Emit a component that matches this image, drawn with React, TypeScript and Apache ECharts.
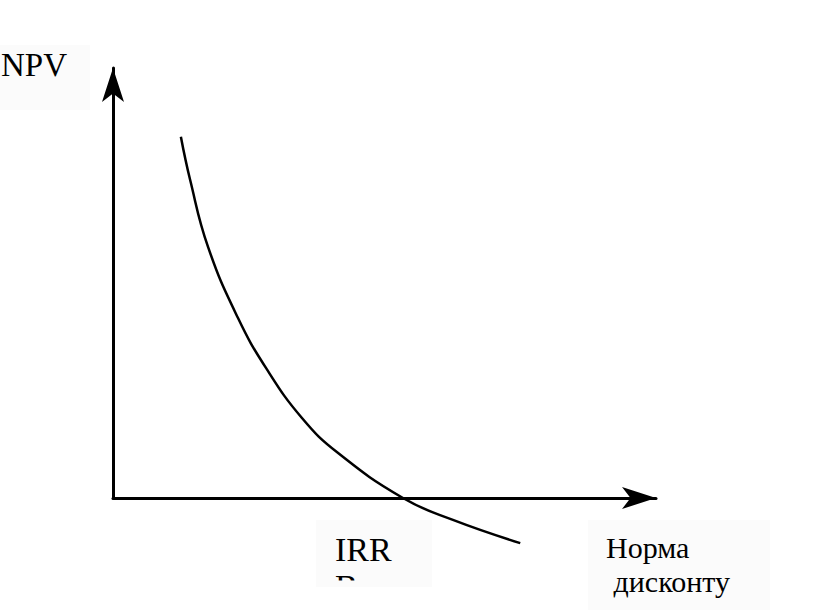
import React, { useEffect, useRef } from "react";
import * as echarts from "echarts";

const rates = [12.5, 14.2, 17.5, 23.0, 28.2, 34.8, 41.4, 53.4, 62.6, 75.0];
const npv = [84.0, 74.0, 58.4, 41.9, 30.2, 18.6, 10.5, 0, -5.1, -10.5];
const yLabel = "NPV";
const irrLabel = "IRR\nВ";
const xLabel = "Норма\n дисконту";

const FONT = "'Liberation Serif', 'Times New Roman', serif";

export default function App() {
  const ref = useRef<HTMLDivElement>(null);
  useEffect(() => {
    document.body.style.margin = "0";
    if (!ref.current) return;
    const chart = echarts.init(ref.current, null, { renderer: "svg" });
    const axisCommon = {
      type: "value" as const,
      min: 0,
      max: 100,
      axisTick: { show: false },
      axisLabel: { show: false },
      splitLine: { show: false },
      axisLine: {
        show: true,
        onZero: false,
        symbol: ["none", "arrow"],
        symbolSize: [16.5, 34],
        lineStyle: { color: "#000", width: 3 },
      },
    };
    const data = rates.map((r, i) => [r, npv[i]]);
    chart.setOption({
      animation: false,
      backgroundColor: "#fff",
      grid: { left: 113, right: 159, top: 68, bottom: 115 },
      xAxis: { ...axisCommon },
      yAxis: { ...axisCommon },
      graphic: [
        { type: "rect", shape: { x: 0, y: 45, width: 90, height: 65 }, style: { fill: "#fbfbfb" }, z: 0 },
        { type: "rect", shape: { x: 316, y: 520, width: 116, height: 67 }, style: { fill: "#fbfbfb" }, z: 0 },
        { type: "rect", shape: { x: 588, y: 520, width: 182, height: 90 }, style: { fill: "#fbfbfb" }, z: 0 },
        {
          type: "text",
          left: 1,
          top: 48,
          style: { text: yLabel, font: `33px ${FONT}`, fill: "#000" },
          z: 5,
        },
        {
          type: "text",
          left: 335,
          top: 531,
          style: { text: irrLabel, font: `34px ${FONT}`, lineHeight: 37, fill: "#000" },
          z: 5,
        },
        { type: "rect", shape: { x: 316, y: 580.5, width: 116, height: 6.5 }, style: { fill: "#fbfbfb" }, z: 6 },
        { type: "rect", shape: { x: 316, y: 587, width: 120, height: 30 }, style: { fill: "#fff" }, z: 6 },
        {
          type: "text",
          left: 606,
          top: 530,
          style: { text: xLabel, font: `30px ${FONT}`, lineHeight: 34, fill: "#000" },
          z: 5,
        },
      ],
      series: [
        {
          type: "custom",
          data,
          clip: false,
          z: 3,
          renderItem: (params: any, api: any) => {
            if (params.dataIndex !== 0) return null;
            const points = data.map((d) => api.coord(d));
            return {
              type: "polyline",
              shape: { points, smooth: 0.45 },
              style: { stroke: "#000", lineWidth: 2.5, fill: "none" },
            };
          },
        },
      ],
    });
    return () => chart.dispose();
  }, []);
  return <div ref={ref} style={{ width: 815, height: 613 }} />;
}
